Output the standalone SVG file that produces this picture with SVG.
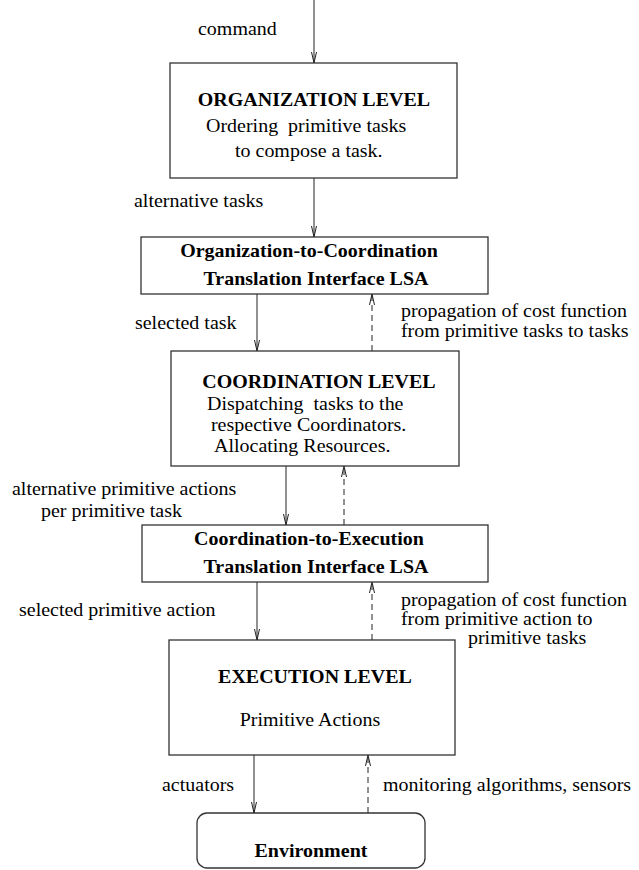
<svg xmlns="http://www.w3.org/2000/svg" width="639" height="870" viewBox="0 0 639 870">
<style>
text{font-family:"Liberation Serif","Times New Roman",serif;font-size:18px;fill:#000}
.b{font-weight:bold}
.m{text-anchor:middle}
.box{fill:#fff;stroke:#333;stroke-width:1.3}
.ln{stroke:#222;stroke-width:1;fill:none}
.d{stroke-dasharray:6 4}
</style>
<defs>
<marker id="ah" viewBox="0 0 11 6" refX="11" refY="3" markerWidth="11" markerHeight="6" markerUnits="userSpaceOnUse" orient="auto">
<path d="M0,0.5 L11,3 L0,5.5" fill="none" stroke="#222" stroke-width="1"/>
</marker>
</defs>
<rect width="639" height="870" fill="#fff"/>
<g id="connectors">
<line class="ln" x1="314" y1="0" x2="314" y2="63" marker-end="url(#ah)"/>
<line class="ln" x1="314" y1="178" x2="314" y2="237" marker-end="url(#ah)"/>
<line class="ln" x1="257" y1="294" x2="257" y2="351" marker-end="url(#ah)"/>
<line class="ln d" x1="372" y1="351" x2="372" y2="294" marker-end="url(#ah)"/>
<line class="ln" x1="286" y1="466" x2="286" y2="525" marker-end="url(#ah)"/>
<line class="ln d" x1="344" y1="525" x2="344" y2="466" marker-end="url(#ah)"/>
<line class="ln" x1="257" y1="582" x2="257" y2="640" marker-end="url(#ah)"/>
<line class="ln d" x1="372" y1="640" x2="372" y2="582" marker-end="url(#ah)"/>
<line class="ln" x1="254" y1="755" x2="254" y2="813" marker-end="url(#ah)"/>
<line class="ln d" x1="368" y1="813" x2="368" y2="755" marker-end="url(#ah)"/>
<g transform="scale(1.111,1)">
<text x="178.2" y="35">command</text>
<text x="120.6" y="207">alternative tasks</text>
<text x="121.5" y="329">selected task</text>
<text x="360.9" y="317">propagation of cost function</text>
<text x="360.9" y="337">from primitive tasks to tasks</text>
<text x="10.8" y="495">alternative primitive actions</text>
<text x="36.9" y="517">per primitive task</text>
<text x="17.1" y="616">selected primitive action</text>
<text x="360.9" y="606">propagation of cost function</text>
<text x="360.9" y="625">from primitive action to</text>
<text x="421.2" y="644">primitive tasks</text>
<text x="145.8" y="791">actuators</text>
<text x="344.7" y="791">monitoring algorithms, sensors</text>
</g>
</g>
<g id="organization">
<rect class="box" x="170" y="63" width="287" height="115"/>
<g transform="scale(1.111,1)">
<text class="b m" x="282.6" y="106">ORGANIZATION LEVEL</text>
<text x="185.4" y="132" xml:space="preserve">Ordering  primitive tasks</text>
<text x="211.5" y="157">to compose a task.</text>
</g>
</g>
<g id="org-coord">
<rect class="box" x="141" y="237" width="347" height="57"/>
<g transform="scale(1.111,1)">
<text class="b m" x="278.1" y="257">Organization-to-Coordination</text>
<text class="b m" x="284.4" y="285">Translation Interface LSA</text>
</g>
</g>
<g id="coordination">
<rect class="box" x="171" y="351" width="288" height="115"/>
<g transform="scale(1.111,1)">
<text class="b m" x="287.1" y="388">COORDINATION LEVEL</text>
<text x="186.3" y="410" xml:space="preserve">Dispatching  tasks to the</text>
<text x="189.9" y="431">respective Coordinators.</text>
<text x="192.6" y="452">Allocating Resources.</text>
</g>
</g>
<g id="coord-exec">
<rect class="box" x="142" y="525" width="346" height="57"/>
<g transform="scale(1.111,1)">
<text class="b m" x="278.1" y="545">Coordination-to-Execution</text>
<text class="b m" x="284.4" y="573">Translation Interface LSA</text>
</g>
</g>
<g id="execution">
<rect class="box" x="169" y="640" width="286" height="115"/>
<g transform="scale(1.111,1)">
<text class="b m" x="283.5" y="683">EXECUTION LEVEL</text>
<text class="m" x="279" y="726">Primitive Actions</text>
</g>
</g>
<g id="environment">
<rect class="box" x="197" y="813" width="228" height="55" rx="10"/>
<g transform="scale(1.111,1)">
<text class="b m" x="279.9" y="857">Environment</text>
</g>
</g>
</svg>
